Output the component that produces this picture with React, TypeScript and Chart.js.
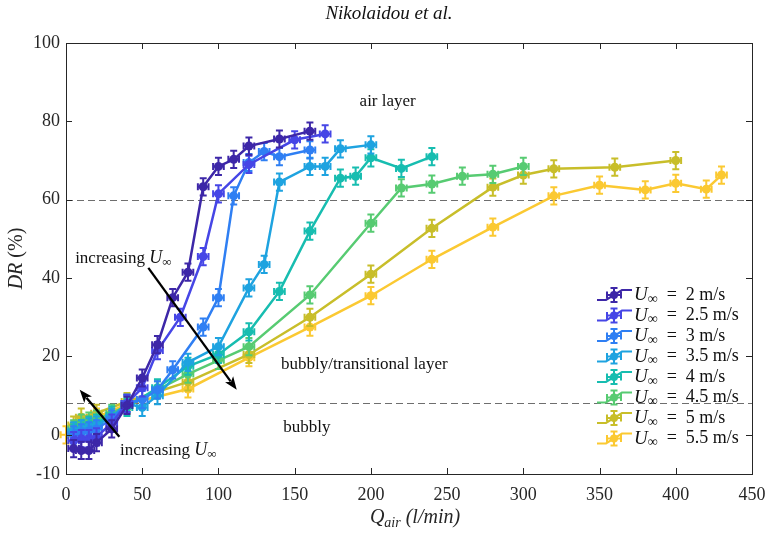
import React, { useEffect, useRef } from 'react';
import { Chart, registerables } from 'chart.js';

Chart.register(...registerables);

// ---------- data ----------
const SPEEDS = ['2', '2.5', '3', '3.5', '4', '4.5', '5', '5.5'];
const COLORS = ['#3d27a8', '#4646e6', '#2f7ff3', '#1ea3e0', '#17bdb0', '#57cb72', '#c8be2a', '#fbc932'];

const Q_U2 = [5, 10, 15, 20, 30, 40, 50, 60, 70, 80, 90, 100, 110, 120, 140, 160];
const DR_U2 = [-3.5, -4, -4, -2, 1.5, 7.5, 14.5, 23, 35, 41.5, 63.3, 68.5, 70.3, 73.7, 75.5, 77.5];

const Q_U25 = [5, 10, 15, 20, 30, 40, 50, 60, 75, 90, 100, 120, 150, 170];
const DR_U25 = [-1.5, -1, -1, -0.5, 3, 8, 12, 21.5, 30, 45.5, 61.5, 69, 75.3, 76.8];

const Q_U3 = [5, 10, 15, 20, 30, 40, 50, 60, 70, 90, 100, 110, 120, 130, 140, 160];
const DR_U3 = [0, 0.5, 1, 1.5, 4, 8, 9, 11.5, 16.6, 27.5, 35, 61, 69.5, 72.3, 71, 72.7];

const Q_U35 = [5, 10, 15, 20, 30, 40, 50, 60, 80, 100, 120, 130, 140, 160, 170, 180, 200];
const DR_U35 = [1, 1.5, 2, 2.5, 4.5, 8, 7, 10, 18.5, 22.5, 37.5, 43.5, 64.5, 68.5, 68.5, 73, 74];

const Q_U4 = [5, 10, 15, 20, 30, 40, 60, 80, 100, 120, 140, 160, 180, 190, 200, 220, 240];
const DR_U4 = [0.5, 1.5, 2.5, 3, 5, 7, 12, 17.5, 20.5, 26.3, 36.6, 52, 65.5, 66, 70.7, 68, 71];

const Q_U45 = [5, 10, 15, 20, 30, 40, 60, 80, 100, 120, 160, 200, 220, 240, 260, 280, 300];
const DR_U45 = [1.5, 3, 3.5, 4, 5.5, 7.5, 11.5, 15.5, 19, 22.5, 35.7, 54, 63, 64, 66, 66.5, 68.5];

const Q_U5 = [5, 10, 20, 40, 80, 120, 160, 200, 240, 280, 300, 320, 360, 400];
const DR_U5 = [2.5, 4.5, 5.5, 8.5, 13.5, 20.5, 30, 41, 52.7, 63.2, 66.3, 67.9, 68.3, 70];

const Q_U55 = [0, 10, 20, 40, 80, 120, 160, 200, 240, 280, 320, 350, 380, 400, 420, 430];
const DR_U55 = [0, 2.5, 4.5, 7.8, 11.7, 19.7, 27.5, 35.5, 44.8, 53, 61, 63.7, 62.5, 64.2, 62.7, 66.3];

const SERIES_Q = [Q_U2, Q_U25, Q_U3, Q_U35, Q_U4, Q_U45, Q_U5, Q_U55];
const SERIES_DR = [DR_U2, DR_U25, DR_U3, DR_U35, DR_U4, DR_U45, DR_U5, DR_U55];

const ERR_Y = 2.2;
const ERR_X = 3.5;

const X_TICKS = [0, 50, 100, 150, 200, 250, 300, 350, 400, 450];
const Y_TICKS = [-10, 0, 20, 40, 60, 80, 100];
const DASHED_LEVELS = [60, 8];

const SERIF = "'Liberation Serif', 'DejaVu Serif', serif";
const INK = '#262626';

type Run = { t: string; font: string; dy?: number };

function drawRuns(ctx: CanvasRenderingContext2D, x: number, y: number, runs: Run[], align: 'left' | 'center' = 'left') {
  let w = 0;
  for (const r of runs) {
    ctx.font = r.font;
    w += ctx.measureText(r.t).width;
  }
  let cx = align === 'center' ? x - w / 2 : x;
  ctx.textBaseline = 'middle';
  ctx.textAlign = 'left';
  for (const r of runs) {
    ctx.font = r.font;
    ctx.fillText(r.t, cx, y + (r.dy || 0));
    cx += ctx.measureText(r.t).width;
  }
}

function arrow(ctx: CanvasRenderingContext2D, x0: number, y0: number, x1: number, y1: number) {
  const ang = Math.atan2(y1 - y0, x1 - x0);
  const L = 13, W = 5;
  ctx.save();
  ctx.strokeStyle = '#000';
  ctx.fillStyle = '#000';
  ctx.lineWidth = 2.3;
  ctx.beginPath();
  ctx.moveTo(x0, y0);
  ctx.lineTo(x1 - Math.cos(ang) * L * 0.8, y1 - Math.sin(ang) * L * 0.8);
  ctx.stroke();
  ctx.beginPath();
  ctx.moveTo(x1, y1);
  ctx.lineTo(x1 - Math.cos(ang) * L - Math.sin(ang) * W, y1 - Math.sin(ang) * L + Math.cos(ang) * W);
  ctx.lineTo(x1 - Math.cos(ang) * L * 0.75, y1 - Math.sin(ang) * L * 0.75);
  ctx.lineTo(x1 - Math.cos(ang) * L + Math.sin(ang) * W, y1 - Math.sin(ang) * L - Math.cos(ang) * W);
  ctx.closePath();
  ctx.fill();
  ctx.restore();
}

function errCross(ctx: CanvasRenderingContext2D, px: number, py: number, xl: number, xr: number, yt: number, yb: number) {
  const c = 3.5;
  ctx.beginPath();
  ctx.moveTo(px, yt); ctx.lineTo(px, yb);
  ctx.moveTo(px - c, yt); ctx.lineTo(px + c, yt);
  ctx.moveTo(px - c, yb); ctx.lineTo(px + c, yb);
  ctx.moveTo(xl, py); ctx.lineTo(xr, py);
  ctx.moveTo(xl, py - c); ctx.lineTo(xl, py + c);
  ctx.moveTo(xr, py - c); ctx.lineTo(xr, py + c);
  ctx.stroke();
}

const overlay = {
  id: 'overlay',
  beforeDatasetsDraw(chart: any) {
    const { ctx, chartArea: a, scales } = chart;
    const ys = scales.y;
    ctx.save();
    ctx.strokeStyle = '#6e6e6e';
    ctx.lineWidth = 1.2;
    ctx.setLineDash([7, 4]);
    for (const v of DASHED_LEVELS) {
      const y = Math.round(ys.getPixelForValue(v)) + 0.5;
      ctx.beginPath();
      ctx.moveTo(a.left, y);
      ctx.lineTo(a.right, y);
      ctx.stroke();
    }
    ctx.restore();
  },
  afterDatasetDraw(chart: any, args: any) {
    const { ctx, scales } = chart;
    const xs = scales.x, ys = scales.y;
    const i = args.index;
    const qs = SERIES_Q[i], ds = SERIES_DR[i];
    ctx.save();
    ctx.strokeStyle = COLORS[i];
    ctx.lineWidth = 2;
    for (let k = 0; k < qs.length; k++) {
      const px = xs.getPixelForValue(qs[k]);
      const py = ys.getPixelForValue(ds[k]);
      errCross(
        ctx, px, py,
        xs.getPixelForValue(qs[k] - ERR_X), xs.getPixelForValue(qs[k] + ERR_X),
        ys.getPixelForValue(ds[k] + ERR_Y), ys.getPixelForValue(ds[k] - ERR_Y)
      );
    }
    ctx.restore();
  },
  afterDraw(chart: any) {
    const { ctx, chartArea: a, scales } = chart;
    const xs = scales.x, ys = scales.y;
    ctx.save();
    // box
    ctx.strokeStyle = INK;
    ctx.lineWidth = 1;
    ctx.strokeRect(Math.round(a.left) + 0.5, Math.round(a.top) + 0.5, Math.round(a.right - a.left), Math.round(a.bottom - a.top));
    // inward ticks
    const T = 6;
    ctx.beginPath();
    for (const v of X_TICKS) {
      const x = Math.round(xs.getPixelForValue(v)) + 0.5;
      ctx.moveTo(x, a.bottom); ctx.lineTo(x, a.bottom - T);
      ctx.moveTo(x, a.top); ctx.lineTo(x, a.top + T);
    }
    for (const v of Y_TICKS) {
      const y = Math.round(ys.getPixelForValue(v)) + 0.5;
      ctx.moveTo(a.left, y); ctx.lineTo(a.left + T, y);
      ctx.moveTo(a.right, y); ctx.lineTo(a.right - T, y);
    }
    ctx.stroke();

    // title
    ctx.fillStyle = '#111';
    drawRuns(ctx, 389, 14, [{ t: 'Nikolaidou et al.', font: `italic 19px ${SERIF}` }], 'center');

    // axis titles
    ctx.fillStyle = INK;
    drawRuns(ctx, (a.left + a.right) / 2 + 6, 518, [
      { t: 'Q', font: `italic 20px ${SERIF}` },
      { t: 'air', font: `italic 14px ${SERIF}`, dy: 5 },
      { t: ' (l/min)', font: `italic 20px ${SERIF}` },
    ], 'center');
    ctx.save();
    ctx.translate(17, (a.top + a.bottom) / 2);
    ctx.rotate(-Math.PI / 2);
    drawRuns(ctx, 0, 0, [
      { t: 'DR', font: `italic 20px ${SERIF}` },
      { t: ' (%)', font: `20px ${SERIF}` },
    ], 'center');
    ctx.restore();

    // annotations
    ctx.fillStyle = '#111';
    const tf = `17px ${SERIF}`;
    drawRuns(ctx, xs.getPixelForValue(211), ys.getPixelForValue(85), [{ t: 'air layer', font: tf }], 'center');
    drawRuns(ctx, xs.getPixelForValue(141), ys.getPixelForValue(18), [{ t: 'bubbly/transitional layer', font: tf }]);
    drawRuns(ctx, xs.getPixelForValue(158), ys.getPixelForValue(1.8), [{ t: 'bubbly', font: tf }], 'center');
    const incRuns = (): Run[] => [
      { t: 'increasing ', font: tf },
      { t: 'U', font: `italic 18px ${SERIF}` },
      { t: '\u221E', font: `13px ${SERIF}`, dy: 4 },
    ];
    drawRuns(ctx, xs.getPixelForValue(6), ys.getPixelForValue(45), incRuns());
    drawRuns(ctx, xs.getPixelForValue(35.5), ys.getPixelForValue(-4), incRuns());
    arrow(ctx, xs.getPixelForValue(54), ys.getPixelForValue(42.6), xs.getPixelForValue(112), ys.getPixelForValue(11.5));
    arrow(ctx, xs.getPixelForValue(35), ys.getPixelForValue(-0.5), xs.getPixelForValue(9), ys.getPixelForValue(11.5));

    // legend
    for (let i = 0; i < SPEEDS.length; i++) {
      const y = 295 + i * 20.5;
      const c = COLORS[i];
      ctx.strokeStyle = c;
      ctx.fillStyle = c;
      ctx.lineWidth = 2.2;
      ctx.beginPath();
      ctx.moveTo(597, y + 5);
      ctx.lineTo(606, y + 5);
      ctx.lineTo(622, y - 5);
      ctx.lineTo(632, y - 5);
      ctx.stroke();
      ctx.lineWidth = 2;
      errCross(ctx, 614, y, 607, 621, y - 7, y + 7);
      ctx.beginPath();
      ctx.arc(614, y, 4, 0, Math.PI * 2);
      ctx.fill();
      ctx.fillStyle = '#111';
      drawRuns(ctx, 634, y, [
        { t: 'U', font: `italic 19px ${SERIF}` },
        { t: '\u221E', font: `14px ${SERIF}`, dy: 4 },
        { t: `  =  ${SPEEDS[i]} m/s`, font: `18px ${SERIF}` },
      ]);
    }
    ctx.restore();
  },
};

export default function App() {
  const ref = useRef<HTMLCanvasElement | null>(null);
  useEffect(() => {
    document.body.style.margin = '0';
    const canvas = ref.current;
    if (!canvas) return;
    const datasets = SERIES_Q.map((qs, i) => ({
      label: `U = ${SPEEDS[i]} m/s`,
      data: qs.map((q, k) => ({ x: q, y: SERIES_DR[i][k] })),
      borderColor: COLORS[i],
      backgroundColor: COLORS[i],
      borderWidth: 2.5,
      pointRadius: 4.5,
      pointBorderWidth: 0,
      pointBackgroundColor: COLORS[i],
      showLine: true,
      tension: 0,
    }));
    const chart = new Chart(canvas, {
      type: 'line',
      data: { datasets },
      options: {
        responsive: false,
        animation: false,
        layout: { padding: { left: 0, right: 20, top: 43, bottom: 0 } },
        plugins: { legend: { display: false }, tooltip: { enabled: false }, title: { display: false } },
        scales: {
          x: {
            type: 'linear',
            min: 0,
            max: 450,
            afterBuildTicks: (s: any) => { s.ticks = X_TICKS.map((v) => ({ value: v })); },
            afterFit: (s: any) => { s.height = 61; s.paddingLeft = 0; s.paddingRight = 0; },
            grid: { display: false, drawTicks: false },
            border: { display: true, color: INK, width: 1 },
            ticks: { font: { family: SERIF, size: 18 }, color: INK, padding: 10, maxRotation: 0, autoSkip: false },
          },
          y: {
            type: 'linear',
            min: -10,
            max: 100,
            afterBuildTicks: (s: any) => { s.ticks = Y_TICKS.map((v) => ({ value: v })); },
            afterFit: (s: any) => { s.width = 66; s.paddingTop = 0; s.paddingBottom = 0; },
            grid: { display: false, drawTicks: false },
            border: { display: true, color: INK, width: 1 },
            ticks: { font: { family: SERIF, size: 18 }, color: INK, padding: 6, autoSkip: false },
          },
        },
      },
      plugins: [overlay],
    } as any);
    return () => chart.destroy();
  }, []);
  return <canvas ref={ref} width={772} height={535} style={{ display: 'block' }} />;
}
